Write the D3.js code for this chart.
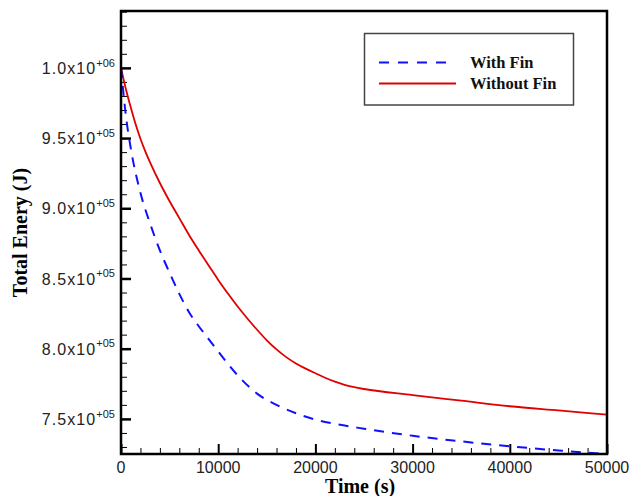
<!DOCTYPE html>
<html>
<head>
<meta charset="utf-8">
<script src="https://cdn.jsdelivr.net/npm/d3@7"></script>
<style>
  html, body { margin: 0; padding: 0; background: #fff; }
  svg { display: block; }
</style>
</head>
<body>
<svg id="chart" width="631" height="496"></svg>
<script>
// ---- data ----
const timeWithoutFin = [0, 500, 1000, 1500, 2000, 2500, 3000, 4000, 5000, 6000, 7000, 8000, 9000, 10000, 11000, 12000, 13000, 14000, 15000, 16000, 17000, 18000, 19000, 20000, 21000, 22000, 23000, 24000, 25000, 30000, 35000, 40000, 45000, 50000];
const energyWithoutFin = [1000000, 985000, 972000, 960000, 949500, 940500, 932500, 918000, 905000, 893000, 881000, 870000, 859500, 849000, 839300, 830000, 821500, 813500, 806000, 799500, 794000, 789500, 785800, 782500, 779300, 776500, 774300, 772600, 771300, 767000, 763000, 759000, 756000, 753000];

const timeWithFin = [0, 500, 1000, 2000, 3000, 4000, 5000, 6000, 7000, 8000, 9000, 10000, 12000, 14000, 16000, 18000, 20000, 22000, 25000, 30000, 35000, 40000, 45000, 50000];
const energyWithFin = [1000000, 966000, 943000, 911000, 889000, 870000, 854000, 839000, 826000, 816000, 807000, 798000, 781000, 768000, 760000, 754000, 749500, 746500, 743000, 738000, 734000, 730500, 727500, 725000];

const seriesNames = ["With Fin", "Without Fin"];
const xMajorTicks = [0, 10000, 20000, 30000, 40000, 50000];
const yMajorTicks = [750000, 800000, 850000, 900000, 950000, 1000000];
const xDomain = [0, 50000];
const yDomain = [725000, 1040500];
const xLabel = "Time (s)";
const yLabel = "Total Enery (J)";

// ---- layout ----
const svg = d3.select("#chart");
const L = 121, R = 607, T = 11, B = 454;
const x = d3.scaleLinear().domain(xDomain).range([L, R]);
const y = d3.scaleLinear().domain(yDomain).range([B, T]);

const sans = "'Liberation Sans', Arial, sans-serif";
const serif = "'Liberation Serif', 'Times New Roman', serif";

// clip
svg.append("clipPath").attr("id", "clip")
  .append("rect").attr("x", L).attr("y", T).attr("width", R - L).attr("height", B - T);

// minor ticks
const xMinor = d3.range(xDomain[0], xDomain[1] + 1, 2000).filter(v => !xMajorTicks.includes(v));
const yMinor = d3.range(730000, yDomain[1], 10000).filter(v => !yMajorTicks.includes(v));

const xAxisG = svg.append("g").attr("transform", `translate(0,${B})`);
xAxisG.call(d3.axisTop(x).tickValues(xMinor).tickSize(6).tickFormat(""))
  .call(g => g.select(".domain").remove())
  .call(g => g.selectAll("line").attr("stroke", "#000").attr("stroke-width", 1));
const xAxisMaj = svg.append("g").attr("transform", `translate(0,${B})`);
xAxisMaj.call(d3.axisTop(x).tickValues(xMajorTicks).tickSize(10).tickFormat(""))
  .call(g => g.select(".domain").remove())
  .call(g => g.selectAll("line").attr("stroke", "#000").attr("stroke-width", 2));

const yAxisG = svg.append("g").attr("transform", `translate(${L},0)`);
yAxisG.call(d3.axisRight(y).tickValues(yMinor).tickSize(6).tickFormat(""))
  .call(g => g.select(".domain").remove())
  .call(g => g.selectAll("line").attr("stroke", "#000").attr("stroke-width", 1));
const yAxisMaj = svg.append("g").attr("transform", `translate(${L},0)`);
yAxisMaj.call(d3.axisRight(y).tickValues(yMajorTicks).tickSize(10).tickFormat(""))
  .call(g => g.select(".domain").remove())
  .call(g => g.selectAll("line").attr("stroke", "#000").attr("stroke-width", 2.5));

// x tick labels
svg.append("g").selectAll("text").data(xMajorTicks).join("text")
  .attr("x", d => x(d)).attr("y", B + 18.5)
  .attr("text-anchor", "middle")
  .attr("font-family", sans).attr("font-size", 16).attr("fill", "#222")
  .text(d => d3.format("d")(d));

// y tick labels with exponent superscript
const yLab = svg.append("g").selectAll("text").data(yMajorTicks).join("text")
  .attr("x", L - 6).attr("y", d => y(d) + 6.2)
  .attr("text-anchor", "end")
  .attr("font-family", sans).attr("font-size", 16).attr("fill", "#222");
yLab.each(function(d) {
  const e = Math.floor(Math.log10(d));
  const m = (d / Math.pow(10, e)).toFixed(1);
  const t = d3.select(this);
  t.append("tspan").attr("letter-spacing", 1.1).text(m + "x10");
  t.append("tspan").attr("font-size", 11).attr("dy", -7.5).text("+" + String(e).padStart(2, "0"));
});

// lines
const line = d3.line().x(d => x(d[0])).y(d => y(d[1])).curve(d3.curveMonotoneX);
const plotG = svg.append("g").attr("clip-path", "url(#clip)");
plotG.append("path")
  .datum(timeWithoutFin.map((t, i) => [t, energyWithoutFin[i]]))
  .attr("d", line).attr("fill", "none")
  .attr("stroke", "#e00000").attr("stroke-width", 1.8);
plotG.append("path")
  .datum(timeWithFin.map((t, i) => [t, energyWithFin[i]]))
  .attr("d", line).attr("fill", "none")
  .attr("stroke", "#1010ff").attr("stroke-width", 2)
  .attr("stroke-dasharray", "10,8");

// frame
svg.append("rect").attr("x", L).attr("y", T).attr("width", R - L).attr("height", B - T)
  .attr("fill", "none").attr("stroke", "#000").attr("stroke-width", 2.5);

// axis titles
svg.append("text").attr("x", (L + R) / 2 - 4).attr("y", 492.5)
  .attr("text-anchor", "middle").attr("font-family", serif).attr("font-weight", "bold")
  .attr("font-size", 20).attr("fill", "#000").text(xLabel);
svg.append("text")
  .attr("transform", `translate(27,${(T + B) / 2}) rotate(-90)`)
  .attr("text-anchor", "middle").attr("font-family", serif).attr("font-weight", "bold")
  .attr("font-size", 20).attr("fill", "#000").text(yLabel);

// legend
const lg = svg.append("g");
lg.append("rect").attr("x", 364.5).attr("y", 33.5).attr("width", 209).attr("height", 71.5)
  .attr("fill", "#fff").attr("stroke", "#444").attr("stroke-width", 1.5);
const legendItems = [
  { name: seriesNames[0], color: "#1010ff", dash: "10,9", y: 62.5, x2: 450 },
  { name: seriesNames[1], color: "#e00000", dash: null, y: 83.5, x2: 456 }
];
legendItems.forEach(it => {
  lg.append("line").attr("x1", 379).attr("x2", it.x2).attr("y1", it.y).attr("y2", it.y)
    .attr("stroke", it.color).attr("stroke-width", 2)
    .attr("stroke-dasharray", it.dash);
  lg.append("text").attr("x", 470).attr("y", it.y + 5.5)
    .attr("font-family", serif).attr("font-weight", "bold").attr("font-size", 16.5)
    .attr("fill", "#111").text(it.name);
});
</script>
</body>
</html>
